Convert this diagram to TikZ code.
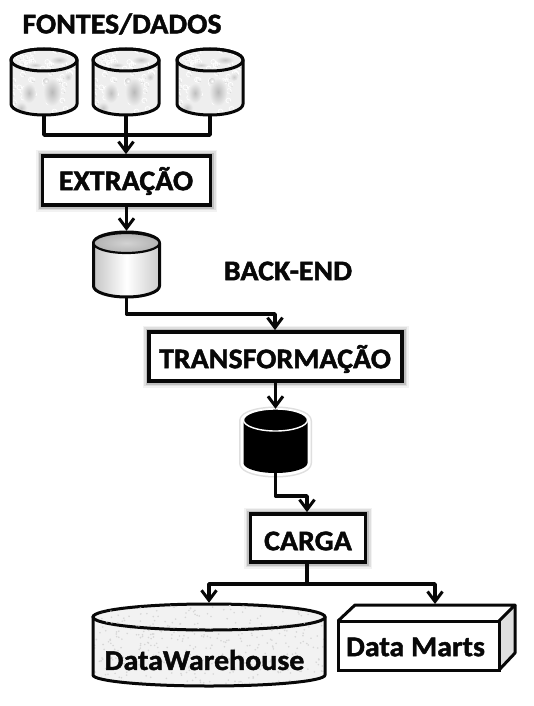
\documentclass[tikz,border=0pt]{standalone}
\usepackage{fontspec}
\setmainfont[BoldFont={Carlito Bold},BoldFeatures={FakeBold=1.6,FakeStretch=1.05}]{Carlito}
\usetikzlibrary{arrows.meta}
\definecolor{ink}{gray}{0.03}
\newcommand{\bodypath}[5]{(#1-#4,#2) -- (#1-#4,#3) arc[start angle=180,end angle=0,x radius=#4,y radius=#5] -- (#1+#4,#2) arc[start angle=0,end angle=-180,x radius=#4,y radius=#5] -- cycle}
\newcommand{\rockcyl}[2]{%
  \begin{scope}
    \clip \bodypath{#2}{60}{104}{33}{11};
    \fill[gray!13] (#2-34,45) rectangle (#2+34,118);
    \pgfmathsetseed{11}
    \foreach \i in {1,...,70} {
      \pgfmathsetmacro{\px}{#2-33+66*rnd}
      \pgfmathsetmacro{\py}{49+66*rnd}
      \draw[white,line width=0.7pt] (\px,\py) circle [radius=2.4];
      \fill[gray!30] (\px+1.5,\py+1.5) circle [radius=0.8];
    }
    \shade[inner color=gray!50,outer color=gray!13] (#2-15,93) ellipse [x radius=7,y radius=10];
    \shade[inner color=gray!55,outer color=gray!13] (#2+8,92) ellipse [x radius=9,y radius=14];
    \shade[inner color=gray!45,outer color=gray!13] (#2-23,108) ellipse [x radius=6,y radius=6];
    \shade[inner color=gray!45,outer color=gray!13] (#2+15,60) ellipse [x radius=9,y radius=4];
    \shade[inner color=gray!40,outer color=gray!13] (#2-9,65) ellipse [x radius=7,y radius=2.5];
    \shade[inner color=gray!40,outer color=gray!13] (#2+24,77) ellipse [x radius=4,y radius=4];
    \shade[inner color=white,outer color=gray!35] (#2+2,81) circle [radius=3];
  \end{scope}
  \draw[cylline] \bodypath{#2}{60}{104}{33}{11};
  \draw[cylline] (#2,60) ellipse [x radius=33,y radius=11];
  \node[anchor=center,inner sep=0pt,minimum width=66pt,minimum height=66pt] (#1) at (#2,82) {};
}
\newcommand{\biglbl}{\fontsize{28.5}{32}\selectfont\bfseries}
\tikzset{
  cylline/.style={draw=ink,line width=3pt,line join=round},
  link/.style={draw=ink,line width=3.6pt,line join=round},
  linkarrow/.style={link,-{Straight Barb[length=10pt,width=15pt,line width=3pt]}},
  stepbox/.style={draw=ink,fill=white,line width=3.8pt,inner sep=0pt,
    preaction={draw=gray!10,line width=13pt},
    preaction={draw=gray!25,line width=10pt},
    preaction={draw=gray!50,line width=7pt}},
  lbl/.style={font=\biglbl,text=ink,inner sep=0pt}
}
\begin{document}
\begin{tikzpicture}[x=1pt,y=-1pt]
\useasboundingbox (0,0) rectangle (533,706);
\fill[white] (0,0) rectangle (533,706);

\node[lbl] (fontes) at (122,24) {FONTES/DADOS};
\node[lbl] (backend) at (288,271) {BACK-END};

% source cylinders
\rockcyl{c1}{44}
\rockcyl{c2}{126}
\rockcyl{c3}{210}

% process boxes
\node[stepbox,minimum width=168pt,minimum height=49pt] (extr) at (126.5,180.5) {};
\node[lbl] (extrt) at (126,181) {EXTRAÇÃO};
\node[stepbox,minimum width=253pt,minimum height=49pt] (trans) at (275.5,356.5) {};
\node[lbl] (transt) at (275,359) {TRANSFORMAÇÃO};
\node[stepbox,minimum width=115pt,minimum height=48pt] (carga) at (308,538) {};
\node[lbl] (cargat) at (308,541) {CARGA};

% staging cylinder
\shade[left color=gray!45,right color=gray!40,middle color=white] \bodypath{126.5}{243}{286}{33}{11};
\draw[cylline] \bodypath{126.5}{243}{286}{33}{11};
\shade[inner color=gray!35,outer color=gray!60] (126.5,243) ellipse [x radius=33,y radius=10];
\draw[cylline,line width=2.2pt] (126.5,243) ellipse [x radius=33,y radius=10];
\node[inner sep=0pt,minimum width=66pt,minimum height=66pt] (c4) at (126.5,264) {};

% black cylinder
\draw[draw=gray!25,line width=9pt,line join=round] \bodypath{275.5}{421}{463}{32}{10};
\draw[draw=white,line width=6pt,line join=round,fill=black] \bodypath{275.5}{421}{463}{32}{10};
\fill[black] \bodypath{275.5}{421}{463}{32}{10};
\draw[draw=white,line width=1.4pt,fill=black] (275.5,420) ellipse [x radius=32,y radius=11];
\node[inner sep=0pt,minimum width=64pt,minimum height=64pt] (c5) at (275.5,441) {};

% data warehouse
\begin{scope}
  \clip \bodypath{209}{617}{675}{116}{11};
  \fill[gray!10] (90,600) rectangle (330,690);
  \pgfmathsetseed{42}
  \foreach \i in {1,...,420} {
    \pgfmathsetmacro{\px}{93+232*rnd}
    \pgfmathsetmacro{\py}{603+83*rnd}
    \fill[gray!32] (\px,\py) circle [radius=0.9];
  }
\end{scope}
\draw[cylline] \bodypath{209}{617}{675}{116}{11};
\draw[cylline,fill=gray!10] (209,617) ellipse [x radius=116,y radius=13];
\begin{scope}
  \clip (209,617) ellipse [x radius=115,y radius=12];
  \pgfmathsetseed{7}
  \foreach \i in {1,...,110} {
    \pgfmathsetmacro{\px}{93+232*rnd}
    \pgfmathsetmacro{\py}{604+26*rnd}
    \fill[gray!32] (\px,\py) circle [radius=0.9];
  }
\end{scope}
\node[inner sep=0pt,minimum width=232pt,minimum height=83pt] (dw) at (209,644.5) {};
\node[lbl] (dwt) at (204.5,660) {DataWarehouse};

% data marts
\fill[gray!25] (499,621) -- (515,605) -- (515,653) -- (499,670) -- cycle;
\draw[cylline] (338,621) -- (355,605) -- (515,605) -- (499,621);
\draw[cylline] (515,605) -- (515,653) -- (499,670);
\node[draw=ink,fill=white,line width=3pt,inner sep=0pt,minimum width=161pt,minimum height=49pt] (dm) at (418.5,645.5) {};
\node[lbl] (dmt) at (415.5,647) {Data Marts};
\coordinate (dmtop) at (435,604);

% connectors
\coordinate (busa) at (126,135);
\draw[link] (c1.south) |- (busa);
\draw[link] (c3.south) |- (busa);
\draw[linkarrow] (c2.south) -- (extr.north -| c2.south);
\draw[linkarrow] (extr.south -| c4.north) -- (c4.north);
\coordinate (busb) at (275,314);
\draw[linkarrow] (c4.south) |- (busb) -- (trans.north -| busb);
\draw[linkarrow] (trans.south) -- (c5.north);
\coordinate (busc) at (307,496);
\draw[linkarrow] (c5.south) |- (busc) -- (carga.north -| busc);
\coordinate (busd) at (307,584);
\draw[link] (carga.south -| busd) -- (busd);
\draw[linkarrow] (busd) -| (dw.north);
\draw[linkarrow] (busd) -| (dmtop);
\end{tikzpicture}
\end{document}
